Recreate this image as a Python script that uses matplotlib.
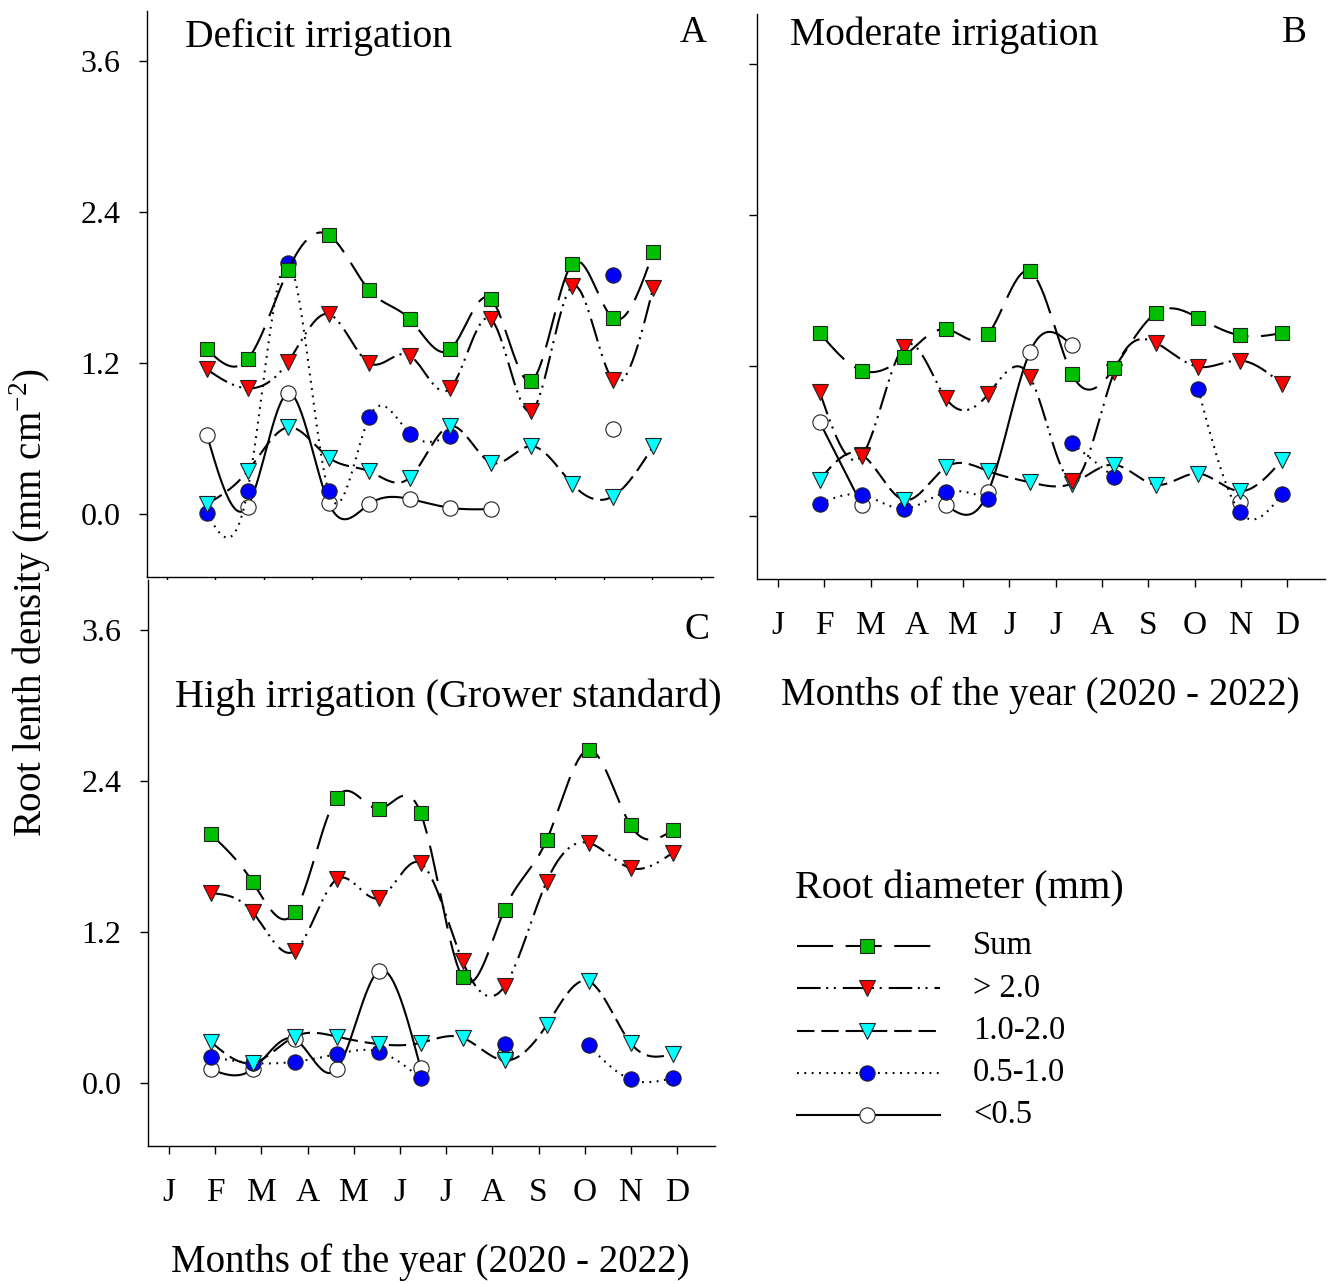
import numpy as np
import matplotlib.pyplot as plt
from matplotlib.lines import Line2D

plt.rcParams['font.family'] = ['Liberation Serif', 'DejaVu Serif']
plt.rcParams['mathtext.fontset'] = 'custom'
plt.rcParams['mathtext.rm'] = 'Liberation Serif'
plt.rcParams['lines.scale_dashes'] = False

nan = np.nan
months = ['J', 'F', 'M', 'A', 'M', 'J', 'J', 'A', 'S', 'O', 'N', 'D']
yticks = [0.0, 1.2, 2.4, 3.6]
ytick_labels = ['0.0', '1.2', '2.4', '3.6']

# root length density (mm cm-2) per sampling, by root diameter class
deficit_sum = [1.31, 1.23, 1.94, 2.22, 1.78, 1.55, 1.31, 1.71, 1.06, 1.99, 1.56, 2.08]
deficit_gt2 = [1.15, 1.00, 1.21, 1.59, 1.20, 1.26, 1.00, 1.55, 0.82, 1.81, 1.07, 1.80]
deficit_1_2 = [0.08, 0.34, 0.69, 0.45, 0.34, 0.29, 0.70, 0.41, 0.54, 0.24, 0.14, 0.54]
deficit_05_1 = [0.01, 0.18, 2.00, 0.18, 0.77, 0.64, 0.62, nan, nan, nan, 1.90, nan]
deficit_lt05 = [0.63, 0.06, 0.96, 0.09, 0.08, 0.12, 0.05, 0.04, nan, nan, 0.68, nan]

moderate_sum = [1.46, 1.16, 1.27, 1.49, 1.45, 1.95, 1.13, 1.18, 1.62, 1.58, 1.44, 1.46]
moderate_gt2 = [0.99, 0.48, 1.35, 0.94, 0.97, 1.11, 0.28, 1.15, 1.38, 1.19, 1.24, 1.05]
moderate_1_2 = [0.29, 0.49, 0.13, 0.39, 0.36, 0.27, 0.26, 0.41, 0.25, 0.34, 0.20, 0.45]
moderate_05_1 = [0.10, 0.17, 0.06, 0.19, 0.14, nan, 0.58, 0.31, nan, 1.01, 0.03, 0.18]
moderate_lt05 = [0.75, 0.09, nan, 0.09, 0.19, 1.31, 1.36, nan, nan, nan, 0.11, nan]

high_sum = [1.98, 1.60, 1.36, 2.27, 2.18, 2.15, 0.84, 1.38, 1.93, 2.65, 2.05, 2.01]
high_gt2 = [1.51, 1.36, 1.05, 1.62, 1.47, 1.75, 0.97, 0.77, 1.60, 1.91, 1.71, 1.83]
high_1_2 = [0.33, 0.16, 0.37, 0.37, 0.31, 0.32, 0.36, 0.18, 0.46, 0.81, 0.32, 0.23]
high_05_1 = [0.21, 0.16, 0.17, 0.23, 0.25, 0.04, nan, 0.31, nan, 0.30, 0.03, 0.04]
high_lt05 = [0.11, 0.11, 0.35, 0.11, 0.89, 0.12, nan, 0.23, nan, nan, nan, nan]

class_labels = ['Sum', '> 2.0', '1.0-2.0', '0.5-1.0', '<0.5']

# sampling positions on the month axis (J = 0)
sample_x = np.linspace(0.9, 10.9, 12)

styles = {
    'Sum': dict(marker='s', ms=10.5, mfc='#00BF00', dashes=(26, 9)),
    '> 2.0': dict(marker='v', ms=12, mfc='#FF0000', dashes=(17, 4, 1.5, 4, 1.5, 5)),
    '1.0-2.0': dict(marker='v', ms=12, mfc='#00FFFF', dashes=(12.5, 5)),
    '0.5-1.0': dict(marker='o', ms=11, mfc='#0000FF', dashes=(1.3, 4)),
    '<0.5': dict(marker='o', ms=11, mfc='white', dashes=None),
}


def spline(x, y, n=30):
    """Natural cubic spline through the points, for the smooth curves."""
    x = np.asarray(x, float)
    y = np.asarray(y, float)
    k = len(x)
    if k < 3:
        return x, y
    h = np.diff(x)
    A = np.zeros((k, k))
    r = np.zeros(k)
    A[0, 0] = A[-1, -1] = 1
    for i in range(1, k - 1):
        A[i, i - 1] = h[i - 1]
        A[i, i] = 2 * (h[i - 1] + h[i])
        A[i, i + 1] = h[i]
        r[i] = 3 * ((y[i + 1] - y[i]) / h[i] - (y[i] - y[i - 1]) / h[i - 1])
    c = np.linalg.solve(A, r)
    xs, ys = [], []
    for i in range(k - 1):
        t = np.linspace(0, h[i], n, endpoint=(i == k - 2))
        b = (y[i + 1] - y[i]) / h[i] - h[i] * (2 * c[i] + c[i + 1]) / 3
        d = (c[i + 1] - c[i]) / (3 * h[i])
        xs.append(x[i] + t)
        ys.append(y[i] + b * t + c[i] * t ** 2 + d * t ** 3)
    return np.concatenate(xs), np.concatenate(ys)


def draw_series(ax, values, label, z):
    st = styles[label]
    y = np.asarray(values, float)
    ok = ~np.isnan(y)
    # one smooth curve per unbroken run of samples
    idx = np.flatnonzero(ok)
    runs = np.split(idx, np.flatnonzero(np.diff(idx) > 1) + 1)
    for run in runs:
        if len(run) < 2:
            continue
        xs, ys = spline(sample_x[run], y[run])
        line, = ax.plot(xs, ys, color='black', lw=1.5, zorder=z)
        if st['dashes']:
            line.set_dashes(st['dashes'])
    ax.plot(sample_x[ok], y[ok], ls='none', marker=st['marker'], ms=st['ms'],
            mfc=st['mfc'], mec='#222222', mew=0.8, zorder=z + 0.5)


def px(x):
    return x / 1331


def py(y):
    return 1 - y / 1284


fig = plt.figure(figsize=(13.31, 12.84), dpi=100)
ax_a = fig.add_axes([px(147), py(577), px(713) - px(147), py(11) - py(577)])
ax_b = fig.add_axes([px(757), py(579), px(1325) - px(757), py(14) - py(579)])
ax_c = fig.add_axes([px(148), py(1146), px(715) - px(148), py(580) - py(1146)])

panels = [
    (ax_a, [deficit_lt05, deficit_05_1, deficit_1_2, deficit_gt2, deficit_sum]),
    (ax_b, [moderate_lt05, moderate_05_1, moderate_1_2, moderate_gt2, moderate_sum]),
    (ax_c, [high_lt05, high_05_1, high_1_2, high_gt2, high_sum]),
]
for ax, series in panels:
    for z, (vals, lab) in enumerate(zip(series, class_labels[::-1])):
        draw_series(ax, vals, lab, 2 + z)
    ax.set_ylim(-0.5, 4.0)
    ax.spines['top'].set_visible(False)
    ax.spines['right'].set_visible(False)
    for s in ('left', 'bottom'):
        ax.spines[s].set_linewidth(1.0)
    ax.set_yticks(yticks)
    ax.tick_params(direction='out', width=1.0, length=6, labelsize=23)
    ax.tick_params(axis='y', pad=13)
    ax.tick_params(axis='x', pad=17)

ax_a.set_xlim(-0.443, 12.24)
ax_a.set_xticks(np.arange(12) * 1.088)
ax_a.set_xticklabels([])
ax_a.tick_params(axis='x', length=3)
ax_a.set_yticklabels(ytick_labels)

for ax in (ax_b, ax_c):
    ax.set_xlim(-0.455, 11.82)
    ax.set_xticks(np.arange(12))
    ax.set_xticklabels(months, fontsize=24)
ax_b.set_yticklabels([])
ax_c.set_yticklabels(ytick_labels)

# panel titles and letters
fig.text(px(185), py(37), 'Deficit irrigation', fontsize=28.5, va='center')
fig.text(px(790), py(35), 'Moderate irrigation', fontsize=28.5, va='center')
fig.text(px(175), py(697), 'High irrigation (Grower standard)', fontsize=29,
         va='center')
fig.text(px(693), py(33), 'A', fontsize=27, ha='center', va='center')
fig.text(px(1294), py(33), 'B', fontsize=27, ha='center', va='center')
fig.text(px(697), py(630), 'C', fontsize=27, ha='center', va='center')

fig.text(px(30), py(602), r'Root lenth density (mm cm$^{\mathrm{-2}}$)', fontsize=28,
         rotation=90, ha='center', va='center')
fig.text(px(1040), py(695), 'Months of the year (2020 - 2022)', fontsize=28,
         ha='center', va='center')
fig.text(px(430), py(1262), 'Months of the year (2020 - 2022)', fontsize=28,
         ha='center', va='center')

# key for the diameter classes
fig.text(px(795), py(889), 'Root diameter (mm)', fontsize=29, va='center')
for i, lab in enumerate(class_labels):
    st = styles[lab]
    yk = py(946 + 42.3 * i)
    key = Line2D([px(797), px(940)], [yk, yk], color='black', lw=1.5,
                 transform=fig.transFigure)
    if st['dashes']:
        key.set_dashes(st['dashes'])
    fig.add_artist(key)
    fig.add_artist(Line2D([px(867)], [yk], ls='none', marker=st['marker'],
                          ms=st['ms'], mfc=st['mfc'], mec='#222222', mew=0.8,
                          transform=fig.transFigure))
    fig.text(px(973), yk, lab, fontsize=23.5, va='center')

fig.savefig('out.png', dpi=100)
